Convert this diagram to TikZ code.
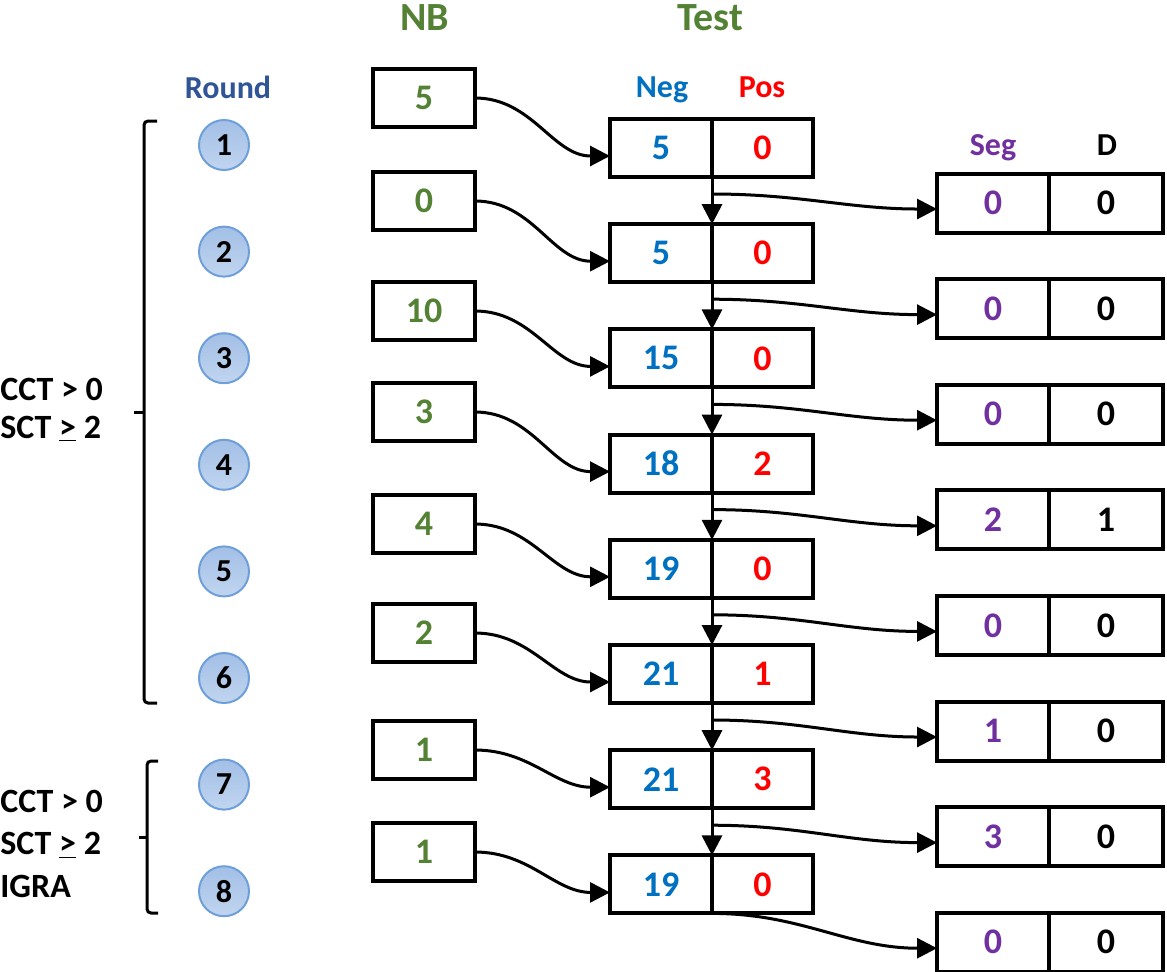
\documentclass[tikz,border=0pt]{standalone}
\usepackage{fontspec}
\setmainfont{Carlito}
\usetikzlibrary{positioning, arrows.meta}

\definecolor{nbgreen}{HTML}{548235}
\definecolor{roundblue}{HTML}{2F5597}
\definecolor{negblue}{HTML}{0070C0}
\definecolor{posred}{HTML}{FF0000}
\definecolor{segpurple}{HTML}{7030A0}
\definecolor{circedge}{HTML}{6E9FD9}
\definecolor{circtop}{HTML}{A3BFE6}
\definecolor{circbot}{HTML}{C0D5EF}

\begin{document}
\begin{tikzpicture}[x=0.5pt,y=-0.5pt]
\tikzset{cellbox/.style={rectangle,draw,line width=2pt,inner sep=0pt,outer sep=0pt,minimum height=29pt,font=\bfseries\fontsize{18}{21}\selectfont},
  nbbox/.style={cellbox,minimum width=51pt,text=nbgreen},
  negcell/.style={cellbox,minimum width=51pt,text=negblue},
  poscell/.style={cellbox,minimum width=50.5pt,text=posred},
  segcell/.style={cellbox,minimum width=56pt,minimum height=29.5pt,text=segpurple},
  dcell/.style={cellbox,minimum width=57pt,minimum height=29.5pt},
  roundmark/.style={circle,draw=circedge,line width=1pt,top color=circtop,bottom color=circbot,minimum size=25pt,inner sep=0pt,outer sep=0pt,font=\bfseries\fontsize{16}{18}\selectfont},
  colhead/.style={anchor=base,inner sep=0pt,font=\bfseries\fontsize{16}{18}\selectfont},
  flow/.style={line width=1.5pt,-{Triangle[length=10pt,width=10pt]}},
  bracket/.style={line width=1.5pt,rounded corners=2pt}}

\useasboundingbox (0,0) rectangle (1167,971);

  % column titles
  \node [colhead, text=nbgreen, font=\bfseries\fontsize{20}{24}\selectfont] (nbtitle) at (425,30) {NB};
  \node [colhead, text=nbgreen, font=\bfseries\fontsize{20}{24}\selectfont] (testtitle) at (710,30) {Test};
  \node [colhead, text=roundblue] (roundhead) at (228,98) {Round};
  \node [colhead, text=negblue] (neghead) at (662,97) {Neg};
  \node [colhead, text=posred] (poshead) at (762,97) {Pos};
  \node [colhead, text=segpurple] (seghead) at (993,155) {Seg};
  \node [colhead] (dhead) at (1107,155) {D};

  % rounds
  \node [roundmark] (r1) at (224,145) {1};
  \node [roundmark, below=28.3pt of r1] (r2) {2};
  \node [roundmark, below=28.3pt of r2] (r3) {3};
  \node [roundmark, below=28.3pt of r3] (r4) {4};
  \node [roundmark, below=28.3pt of r4] (r5) {5};
  \node [roundmark, below=28.3pt of r5] (r6) {6};
  \node [roundmark, below=28.3pt of r6] (r7) {7};
  \node [roundmark, below=28.3pt of r7] (r8) {8};

  % conditions
  \node [anchor=base west, align=left, inner sep=0pt, font=\bfseries\fontsize{17}{19}\selectfont] (cond1) at (0,438) {CCT > 0\\SCT \underline{>} 2};
  \node [anchor=base west, align=left, inner sep=0pt, font=\bfseries\fontsize{17}{21.25}\selectfont] (cond2) at (0,897) {CCT > 0\\SCT \underline{>} 2\\IGRA};

  \draw [bracket] (157,121) -- (144,121) -- (144,703) -- (157,703);
  \draw [bracket] (144,412) -- (134,412);
  \draw [bracket] (158,761) -- (147,761) -- (147,913) -- (158,913);
  \draw [bracket] (147,837) -- (139,837);

  % NB boxes
  \node [nbbox] (nb1) at (424,98) {5};
  \node [nbbox] (nb2) at (424,201) {0};
  \node [nbbox] (nb3) at (424,311) {10};
  \node [nbbox] (nb4) at (424,412) {3};
  \node [nbbox] (nb5) at (424,524) {4};
  \node [nbbox] (nb6) at (424,633) {2};
  \node [nbbox] (nb7) at (424,750) {1};
  \node [nbbox] (nb8) at (424,852) {1};

  % test boxes
  \node [negcell] (neg1) at (661,148) {5};
  \node [poscell, right=0pt of neg1] (pos1) {0};
  \node [negcell, below=23.6pt of neg1] (neg2) {5};
  \node [poscell, right=0pt of neg2] (pos2) {0};
  \node [negcell, below=23.6pt of neg2] (neg3) {15};
  \node [poscell, right=0pt of neg3] (pos3) {0};
  \node [negcell, below=23.6pt of neg3] (neg4) {18};
  \node [poscell, right=0pt of neg4] (pos4) {2};
  \node [negcell, below=23.6pt of neg4] (neg5) {19};
  \node [poscell, right=0pt of neg5] (pos5) {0};
  \node [negcell, below=23.6pt of neg5] (neg6) {21};
  \node [poscell, right=0pt of neg6] (pos6) {1};
  \node [negcell, below=23.6pt of neg6] (neg7) {21};
  \node [poscell, right=0pt of neg7] (pos7) {3};
  \node [negcell, below=23.6pt of neg7] (neg8) {19};
  \node [poscell, right=0pt of neg8] (pos8) {0};

  % seg boxes
  \node [segcell] (seg1) at (993,203) {0};
  \node [dcell, right=0pt of seg1] (d1) {0};
  \node [segcell, below=23.3pt of seg1] (seg2) {0};
  \node [dcell, right=0pt of seg2] (d2) {0};
  \node [segcell, below=23.3pt of seg2] (seg3) {0};
  \node [dcell, right=0pt of seg3] (d3) {0};
  \node [segcell, below=23.3pt of seg3] (seg4) {2};
  \node [dcell, right=0pt of seg4] (d4) {1};
  \node [segcell, below=23.3pt of seg4] (seg5) {0};
  \node [dcell, right=0pt of seg5] (d5) {0};
  \node [segcell, below=23.3pt of seg5] (seg6) {1};
  \node [dcell, right=0pt of seg6] (d6) {0};
  \node [segcell, below=23.3pt of seg6] (seg7) {3};
  \node [dcell, right=0pt of seg7] (d7) {0};
  \node [segcell, below=23.3pt of seg7] (seg8) {0};
  \node [dcell, right=0pt of seg8] (d8) {0};

  % NB into test
  \draw [flow] (nb1.east) to[out=0,in=180] ([yshift=-4pt]neg1.west);
  \draw [flow] (nb2.east) to[out=0,in=180] ([yshift=-4pt]neg2.west);
  \draw [flow] (nb3.east) to[out=0,in=180] ([yshift=-4pt]neg3.west);
  \draw [flow] (nb4.east) to[out=0,in=180] ([yshift=-4pt]neg4.west);
  \draw [flow] (nb5.east) to[out=0,in=180] ([yshift=-4pt]neg5.west);
  \draw [flow] (nb6.east) to[out=0,in=180] ([yshift=-4pt]neg6.west);
  \draw [flow] (nb7.east) to[out=0,in=180] ([yshift=-4pt]neg7.west);
  \draw [flow] (nb8.east) to[out=0,in=180] ([yshift=-4pt]neg8.west);

  % test to next round
  \draw [flow] (neg1.south east) -- (neg2.north east);
  \draw [flow] (neg2.south east) -- (neg3.north east);
  \draw [flow] (neg3.south east) -- (neg4.north east);
  \draw [flow] (neg4.south east) -- (neg5.north east);
  \draw [flow] (neg5.south east) -- (neg6.north east);
  \draw [flow] (neg6.south east) -- (neg7.north east);
  \draw [flow] (neg7.south east) -- (neg8.north east);

  % test to seg
  \draw [flow] ([yshift=-8.5pt]neg1.south east) to[out=0,in=180] ([yshift=-3pt]seg1.west);
  \draw [flow] ([yshift=-8.5pt]neg2.south east) to[out=0,in=180] ([yshift=-3pt]seg2.west);
  \draw [flow] ([yshift=-8.5pt]neg3.south east) to[out=0,in=180] ([yshift=-3pt]seg3.west);
  \draw [flow] ([yshift=-8.5pt]neg4.south east) to[out=0,in=180] ([yshift=-3pt]seg4.west);
  \draw [flow] ([yshift=-8.5pt]neg5.south east) to[out=0,in=180] ([yshift=-3pt]seg5.west);
  \draw [flow] ([yshift=-8.5pt]neg6.south east) to[out=0,in=180] ([yshift=-3pt]seg6.west);
  \draw [flow] ([yshift=-8.5pt]neg7.south east) to[out=0,in=180] ([yshift=-3pt]seg7.west);
  \draw [flow] (neg8.south east) to[out=0,in=180] ([yshift=-3pt]seg8.west);

\end{tikzpicture}
\end{document}
